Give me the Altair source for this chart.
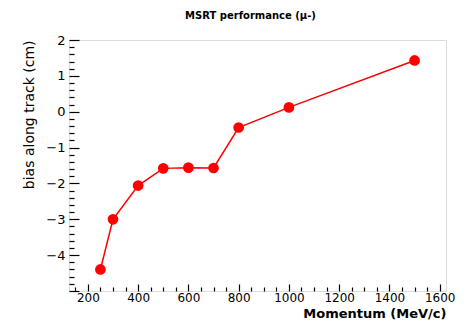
import altair as alt
import pandas as pd

momentum = [250, 300, 400, 500, 600, 700, 800, 1000, 1500]
bias = [-4.40, -3.00, -2.06, -1.58, -1.56, -1.57, -0.44, 0.12, 1.43]

x_labels = [200, 400, 600, 800, 1000, 1200, 1400, 1600]
x_minor = [150, 250, 300, 350, 450, 500, 550, 650, 700, 750, 850, 900, 950,
           1050, 1100, 1150, 1250, 1300, 1350, 1450, 1500, 1550]
y_labels = [-4, -3, -2, -1, 0, 1, 2]
y_major = [-5, -4, -3, -2, -1, 0, 1, 2]
y_minor = [round(v / 5, 1) for v in range(-25, 11) if v % 5 != 0]

df = pd.DataFrame({"momentum": momentum, "bias": bias})

FONT = "DejaVu Sans"
xs = alt.Scale(domain=[125, 1625], nice=False, zero=False)
ys = alt.Scale(domain=[-5, 2], nice=False, zero=False)

base = alt.Chart(df)

main_x = alt.Axis(orient="bottom", values=x_labels, format="d", ticks=False, tickSize=0,
                  domain=False, grid=False, labelFont=FONT, labelFontSize=12,
                  labelColor="black", labelPadding=1, labelBaseline="top",
                  title="Momentum (MeV/c)", titleFont=FONT, titleFontSize=13,
                  titleFontWeight="bold", titleColor="black", titleAnchor="end",
                  titleAlign="right", titleX=377, titleY=22, titleBaseline="middle",
                  labelFlush=False, labelOverlap=False)
main_y = alt.Axis(orient="left", values=y_labels, format="d", ticks=False, tickSize=0,
                  domain=False, grid=False, labelFont=FONT, labelFontSize=13,
                  labelColor="black", labelPadding=4, title="bias along track (cm)",
                  titleFont=FONT, titleFontSize=14, titleFontWeight="normal",
                  titleColor="black", titleAngle=270, titleAlign="right",
                  titleBaseline="bottom", titleX=-33, titleY=0, labelFlush=False,
                  labelOverlap=False)

line = base.mark_line(color="#ff0000", strokeWidth=1.5).encode(
    x=alt.X("momentum:Q", scale=xs, axis=main_x),
    y=alt.Y("bias:Q", scale=ys, axis=main_y),
)
points = base.mark_point(filled=True, shape="circle", size=115, color="#ff0000", opacity=1).encode(
    x=alt.X("momentum:Q", scale=xs, axis=None),
    y=alt.Y("bias:Q", scale=ys, axis=None),
)

def tick_axis(orient, vals, size):
    return alt.Axis(orient=orient, values=vals, ticks=True, tickSize=size, offset=-size,
                    tickColor="black", tickWidth=1.2, labels=False, domain=False,
                    grid=False, title=None)

major = base.mark_point(opacity=0).encode(
    x=alt.X("momentum:Q", scale=xs, axis=tick_axis("bottom", x_labels, 7)),
    y=alt.Y("bias:Q", scale=ys, axis=tick_axis("left", y_major, 10)),
)
minor = base.mark_point(opacity=0).encode(
    x=alt.X("momentum:Q", scale=xs, axis=tick_axis("bottom", x_minor, 4)),
    y=alt.Y("bias:Q", scale=ys, axis=tick_axis("left", y_minor, 5)),
)

chart = alt.layer(line, points, major, minor).resolve_axis(
    x="independent", y="independent"
).properties(
    width=377, height=251,
    autosize=alt.AutoSizeParams(type="none"),
    padding={"left": 61, "top": 32, "right": 19, "bottom": 31},
    title=alt.TitleParams("MSRT performance (μ-)", font=FONT, fontSize=10,
                          fontWeight="bold", color="black", anchor="middle",
                          offset=13, dx=-7),
).configure_view(stroke="black", strokeWidth=1.6).configure(background="white")

chart.save("out.html", embed_options={"renderer": "svg", "actions": False})
